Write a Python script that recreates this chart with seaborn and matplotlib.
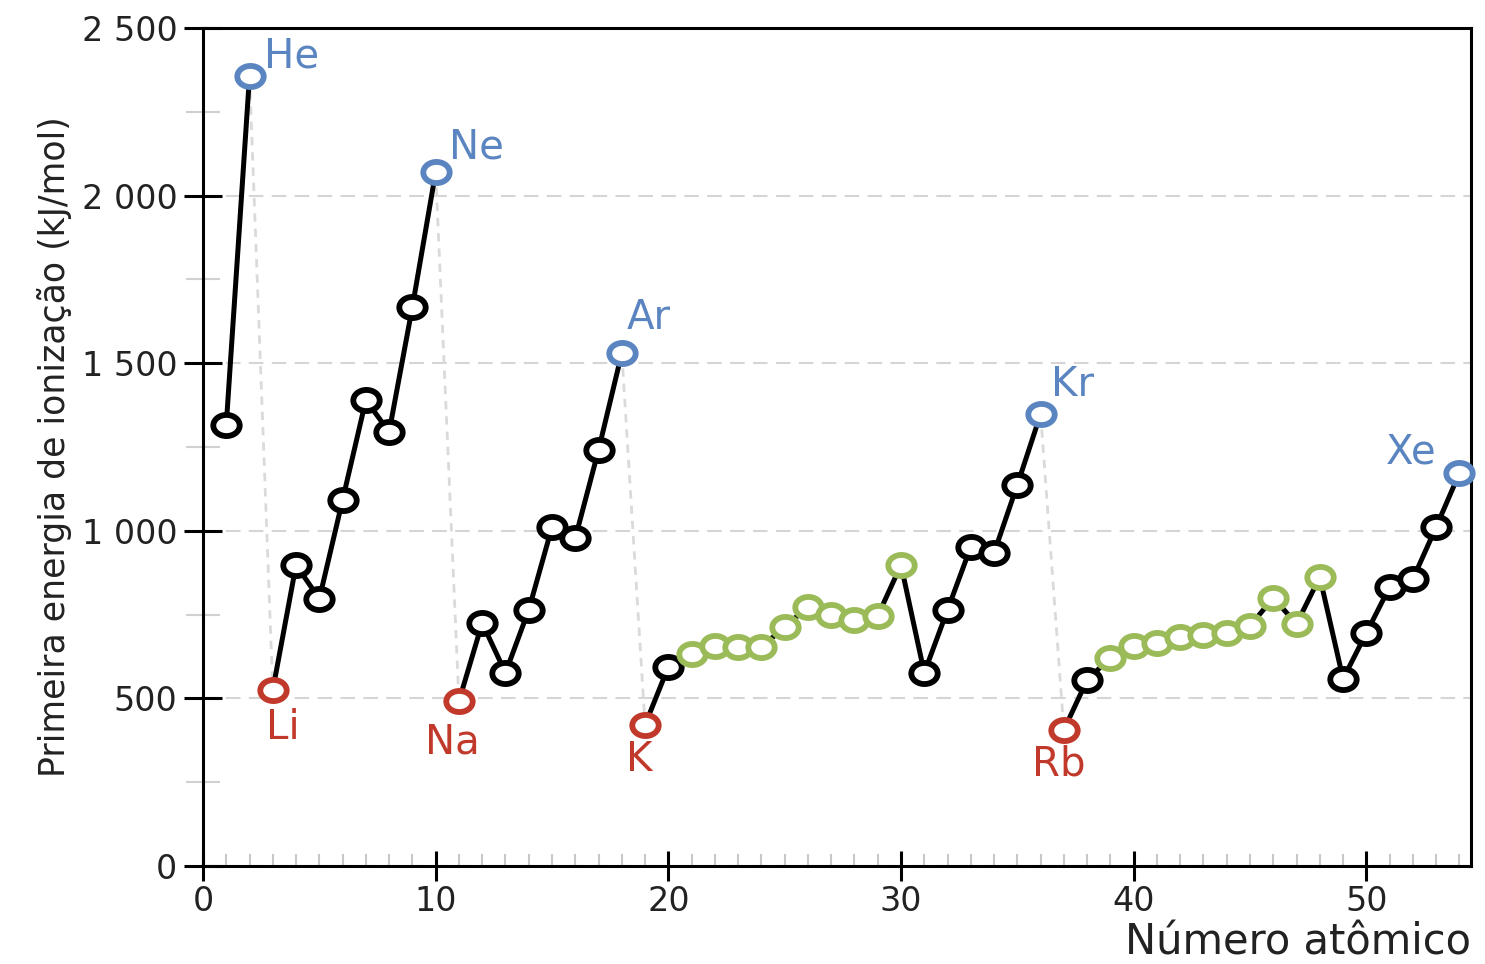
import pandas as pd
import matplotlib
matplotlib.use('Agg')
import matplotlib.pyplot as plt
from matplotlib import font_manager
from matplotlib.path import Path
from matplotlib.transforms import Affine2D
from matplotlib.ticker import MultipleLocator, FuncFormatter
import seaborn as sns

# -------------------------------
# Dados
# -------------------------------
simbolos = ['H', 'He',
            'Li', 'Be', 'B', 'C', 'N', 'O', 'F', 'Ne',
            'Na', 'Mg', 'Al', 'Si', 'P', 'S', 'Cl', 'Ar',
            'K', 'Ca', 'Sc', 'Ti', 'V', 'Cr', 'Mn', 'Fe', 'Co', 'Ni', 'Cu', 'Zn',
            'Ga', 'Ge', 'As', 'Se', 'Br', 'Kr',
            'Rb', 'Sr', 'Y', 'Zr', 'Nb', 'Mo', 'Tc', 'Ru', 'Rh', 'Pd', 'Ag', 'Cd',
            'In', 'Sn', 'Sb', 'Te', 'I', 'Xe']
numero_atomico = [1, 2,
                  3, 4, 5, 6, 7, 8, 9, 10,
                  11, 12, 13, 14, 15, 16, 17, 18,
                  19, 20, 21, 22, 23, 24, 25, 26, 27, 28, 29, 30,
                  31, 32, 33, 34, 35, 36,
                  37, 38, 39, 40, 41, 42, 43, 44, 45, 46, 47, 48,
                  49, 50, 51, 52, 53, 54]
energia = [1316, 2357,
           525, 898, 797, 1092, 1390, 1295, 1668, 2070,
           492, 725, 576, 764, 1011, 978, 1241, 1530,
           421, 594, 632, 656, 653, 653, 713, 773, 749, 734, 746, 898,
           576, 764, 952, 934, 1137, 1348,
           406, 555, 621, 656, 665, 683, 689, 695, 716, 800, 722, 862,
           558, 695, 832, 856, 1011, 1172]
periodo = [1, 1,
           2, 2, 2, 2, 2, 2, 2, 2,
           3, 3, 3, 3, 3, 3, 3, 3,
           4, 4, 4, 4, 4, 4, 4, 4, 4, 4, 4, 4, 4, 4, 4, 4, 4, 4,
           5, 5, 5, 5, 5, 5, 5, 5, 5, 5, 5, 5, 5, 5, 5, 5, 5, 5]

alcalinos = ['Li', 'Na', 'K', 'Rb']
gases_nobres = ['He', 'Ne', 'Ar', 'Kr', 'Xe']
transicao = ['Sc', 'Ti', 'V', 'Cr', 'Mn', 'Fe', 'Co', 'Ni', 'Cu', 'Zn',
             'Y', 'Zr', 'Nb', 'Mo', 'Tc', 'Ru', 'Rh', 'Pd', 'Ag', 'Cd']

df = pd.DataFrame({'simbolo': simbolos, 'Z': numero_atomico,
                   'E': energia, 'periodo': periodo})


def classe(s):
    if s in alcalinos:
        return 'alcalino'
    if s in gases_nobres:
        return 'nobre'
    if s in transicao:
        return 'transicao'
    return 'outro'


df['grupo'] = df['simbolo'].apply(classe)

cores = {'outro': 'black', 'transicao': '#9bbb59',
         'alcalino': '#c0392b', 'nobre': '#5b85c1'}

# posicao dos rotulos (pixels a partir do ponto)
rotulos = {'He': (14, 19, 'left'), 'Ne': (13, 25, 'left'),
           'Ar': (5, 35, 'left'), 'Kr': (10, 29, 'left'),
           'Xe': (-23, 21, 'right'),
           'Li': (10, -38, 'center'), 'Na': (-7, -41, 'center'),
           'K': (-6, -35, 'center'), 'Rb': (-5, -35, 'center')}

# -------------------------------
# Grafico
# -------------------------------
sns.set_theme(style='ticks')
plt.rcParams['font.family'] = ['DejaVu Sans']

# fonte estreita para o eixo y, se existir
try:
    caminho = font_manager.findfont(font_manager.FontProperties(family='DejaVu Sans Condensed'),
                                    fallback_to_default=False)
    tem_condensada = 'Condensed' in caminho
except Exception:
    tem_condensada = False
if tem_condensada:
    fonte_y = {'family': ['DejaVu Sans Condensed', 'DejaVu Sans'], 'fontsize': 27.5}
else:
    fonte_y = {'family': ['DejaVu Sans'], 'fontsize': 25}

fig = plt.figure(figsize=(14.85, 9.64), dpi=100)
ax = fig.add_axes([0.1367, 0.1017, 0.8539, 0.8693])

# ligacoes tracejadas gas nobre -> alcalino
for nobre, alc in zip(gases_nobres[:-1], alcalinos):
    sub = df[df['simbolo'].isin([nobre, alc])]
    sns.lineplot(data=sub, x='Z', y='E', color='#dadada', lw=2,
                 linestyle=(0, (3, 2.5)), ax=ax, zorder=1)

# linhas de cada periodo
sns.lineplot(data=df, x='Z', y='E', units='periodo', estimator=None,
             color='black', lw=3.6, ax=ax, zorder=2)

marcador = Path.unit_circle().transformed(Affine2D().scale(1.25, 1.0))
for g, cor in cores.items():
    sub = df[df['grupo'] == g]
    sns.scatterplot(data=sub, x='Z', y='E', marker=marcador, s=19 ** 2,
                    color='white', edgecolor=cor, linewidth=4.2,
                    ax=ax, zorder=3, clip_on=False, legend=False)

for s, (dx, dy, ha) in rotulos.items():
    linha = df[df['simbolo'] == s].iloc[0]
    ax.annotate(s, (linha['Z'], linha['E']), xytext=(dx, dy),
                textcoords='offset pixels', ha=ha, va='center',
                fontsize=29, color=cores[linha['grupo']], zorder=4)

ax.set_xlim(0, 54.5)
ax.set_ylim(0, 2500)
ax.xaxis.set_major_locator(MultipleLocator(10))
ax.xaxis.set_minor_locator(MultipleLocator(1))
ax.yaxis.set_major_locator(MultipleLocator(500))
ax.yaxis.set_minor_locator(MultipleLocator(250))
ax.yaxis.set_major_formatter(FuncFormatter(lambda v, p: f'{int(v):,}'.replace(',', ' ')))

ax.tick_params(axis='y', which='major', direction='inout', length=27, width=2.2,
               color='black', labelsize=24, labelcolor='#222222', pad=5)
ax.tick_params(axis='y', which='minor', direction='inout', length=24, width=1.5,
               color='#d0d0d0')
ax.tick_params(axis='x', which='major', direction='inout', length=22, width=2.2,
               color='black', labelsize=24, labelcolor='#222222', pad=3)
ax.tick_params(axis='x', which='minor', direction='in', length=9, width=1.5,
               color='#c8c8c8')

ax.grid(axis='y', which='major', color='#d5d5d5', lw=1.5, linestyle=(0, (7, 4)))
ax.set_axisbelow(True)
for sp in ax.spines.values():
    sp.set_linewidth(2.2)
    sp.set_color('black')

ax.set_xlabel('Número atômico', fontsize=30, color='#222222', loc='right', labelpad=2)
ax.set_ylabel('Primeira energia de ionização (kJ/mol)', color='#222222',
              labelpad=7, **fonte_y)

fig.savefig('out.png', dpi=100)
plt.close(fig)
